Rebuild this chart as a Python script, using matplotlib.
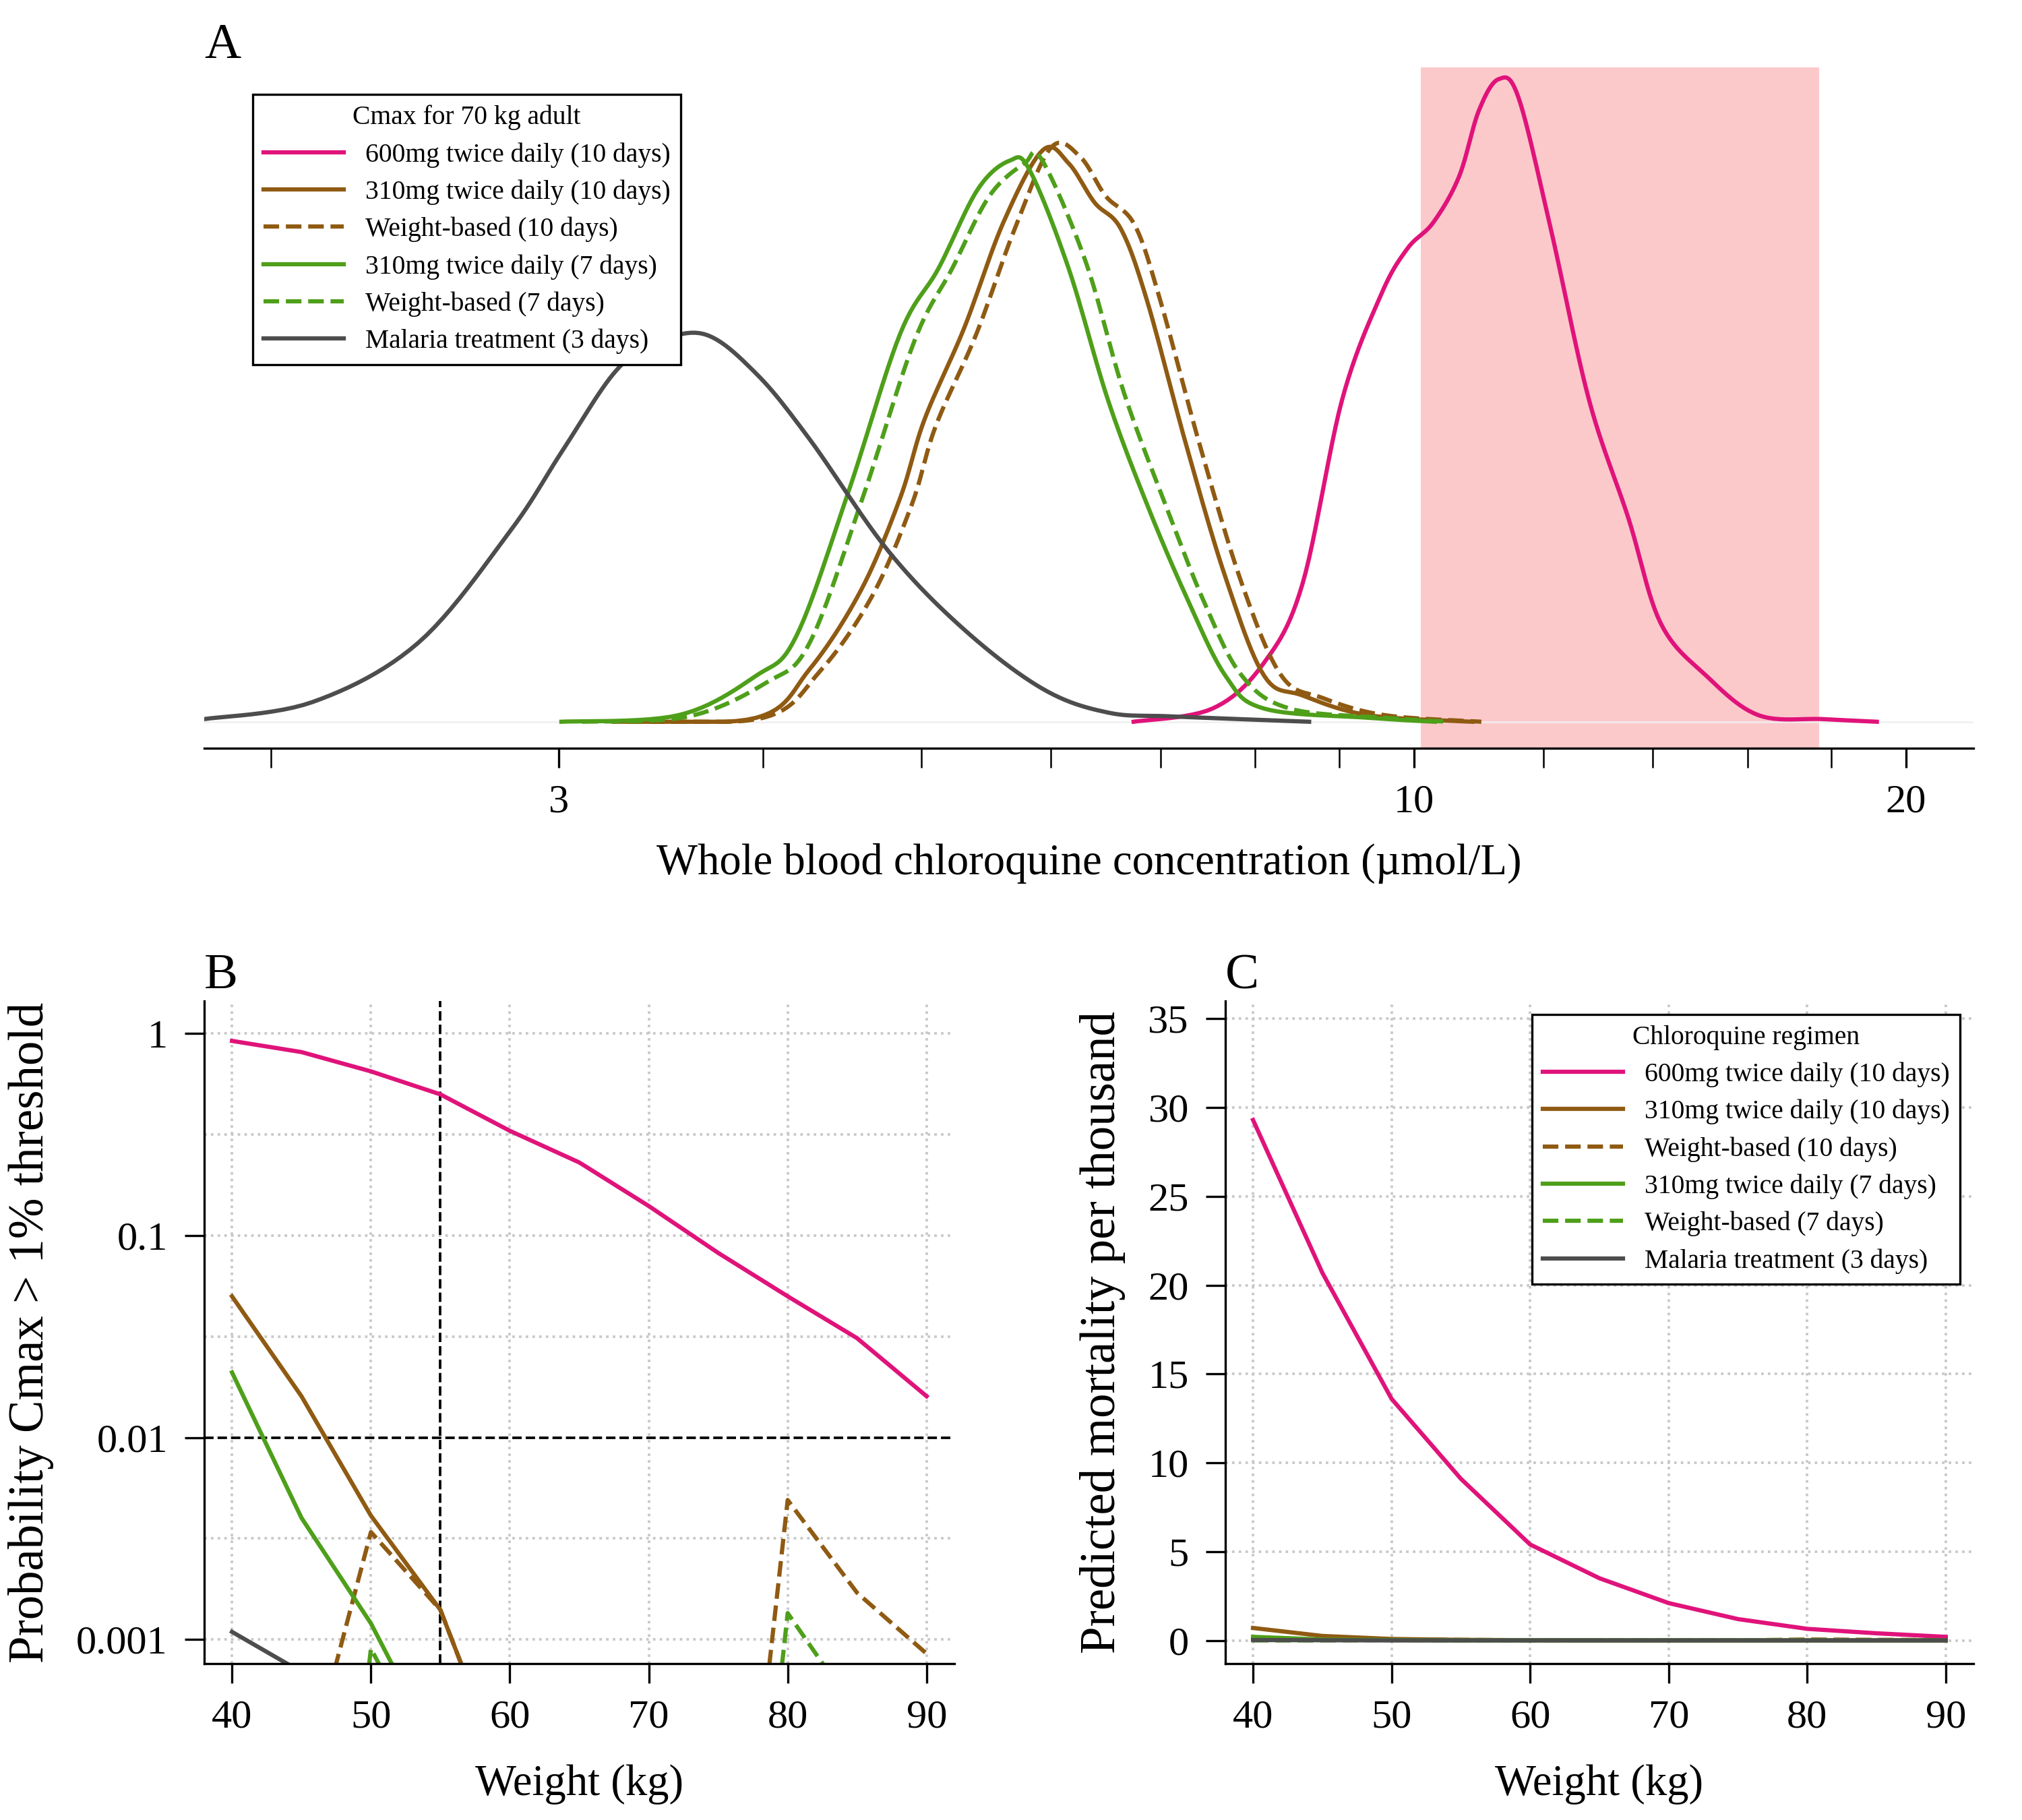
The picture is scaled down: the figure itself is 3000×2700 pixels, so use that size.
import matplotlib
matplotlib.use("Agg")
import matplotlib.pyplot as plt
import numpy as np
from matplotlib.ticker import FixedLocator, NullFormatter, FixedFormatter

plt.rcParams['font.family'] = ['Liberation Serif', 'DejaVu Serif']

PINK = '#E0137A'; BROWN = '#8F5A12'; GREEN = '#4E9F1A'; GRAY = '#4D4D4D'

# ---- Panel A densities (concentration, relative density) ----
gray_x = [1.82, 2.12, 2.46, 2.80, 3.01, 3.24, 3.42, 3.68, 3.96, 4.27, 4.77, 5.31, 5.93, 6.50, 7.13, 8.63]
gray_y = [2, 15, 60, 145, 205, 265, 287, 295, 265, 215, 130, 70, 25, 7, 4, 0]
pink_x = [6.74, 7.53, 8.10, 8.55, 9.04, 9.55, 9.91, 10.28, 10.66, 10.96, 11.27, 11.59, 12.13, 12.80, 13.53, 14.16, 15.10, 16.25, 17.8, 19.2]
pink_y = [0, 10, 45, 105, 245, 325, 360, 380, 415, 465, 489, 475, 375, 245, 155, 75, 35, 5, 2, 0]
g7_x = [3.01, 3.55, 3.96, 4.19, 4.51, 4.85, 5.12, 5.41, 5.66, 5.82, 6.15, 6.50, 6.87, 7.26, 7.67, 8.10, 9.38, 10.3]
g7_y = [0, 5, 35, 65, 175, 295, 345, 405, 427, 420, 345, 245, 165, 95, 35, 10, 3, 0]
gw7_x = [3.1, 3.6, 4.02, 4.27, 4.6, 4.95, 5.22, 5.5, 5.78, 5.92, 6.3, 6.65, 7.05, 7.45, 7.85, 8.4, 9.6, 10.5]
gw7_y = [0, 4, 30, 60, 170, 290, 345, 400, 425, 428, 350, 250, 165, 90, 35, 10, 3, 0]
b10_x = [3.24, 3.96, 4.27, 4.59, 4.85, 5.02, 5.31, 5.61, 5.93, 6.15, 6.38, 6.62, 6.87, 7.26, 7.67, 8.10, 8.55, 9.38, 10.86]
b10_y = [0, 3, 40, 100, 170, 230, 300, 380, 435, 425, 395, 375, 320, 210, 110, 35, 20, 5, 0]
bw10_x = [3.3, 4.0, 4.33, 4.66, 4.93, 5.1, 5.4, 5.7, 6.0, 6.25, 6.48, 6.75, 7.0, 7.4, 7.85, 8.3, 8.8, 9.6, 11.0]
bw10_y = [0, 3, 38, 95, 165, 225, 295, 375, 437, 430, 400, 378, 320, 210, 105, 35, 18, 5, 0]
shade_range = [10.1, 17.7]

# ---- Panel B/C ----
weights = [40, 45, 50, 55, 60, 65, 70, 75, 80, 85, 90]
pB_pink = [0.92, 0.81, 0.65, 0.50, 0.33, 0.23, 0.14, 0.082, 0.050, 0.031, 0.016]
pB_b10 = [0.050, 0.016, 0.0041, 0.0014, 0.00018, 1e-6, 1e-6, 1e-6, 1e-6, 1e-6, 1e-6]
pB_bw10 = [1e-6, 0.00017, 0.0034, 0.0014, 0.00018, 1e-6, 1e-6, 4e-6, 0.0049, 0.0017, 0.00085]
pB_g7 = [0.021, 0.0040, 0.0012, 0.00026, 1e-6, 1e-6, 1e-6, 1e-6, 1e-6, 1e-6, 1e-6]
pB_gw7 = [1e-6, 1e-6, 0.0009, 0.0002, 1e-6, 1e-6, 1e-6, 1e-6, 0.00135, 0.00043, 1e-6]
pB_gray = [0.00109, 0.00069, 1e-6, 1e-6, 1e-6, 1e-6, 1e-6, 1e-6, 1e-6, 1e-6, 1e-6]

mC_pink = [29.3, 20.7, 13.6, 9.1, 5.4, 3.5, 2.1, 1.2, 0.65, 0.4, 0.2]
mC_b10 = [0.7, 0.25, 0.08, 0.03, 0.01, 0, 0, 0, 0, 0, 0]
mC_bw10 = [0.05, 0.03, 0.05, 0.03, 0.01, 0, 0, 0, 0.05, 0.03, 0.02]
mC_g7 = [0.2, 0.05, 0.02, 0, 0, 0, 0, 0, 0, 0, 0]
mC_gw7 = [0, 0, 0.02, 0, 0, 0, 0, 0, 0.02, 0, 0]
mC_gray = [0.02, 0.01, 0, 0, 0, 0, 0, 0, 0, 0, 0]

labels = ['600mg twice daily (10 days)', '310mg twice daily (10 days)', 'Weight-based (10 days)',
          '310mg twice daily (7 days)', 'Weight-based (7 days)', 'Malaria treatment (3 days)']
styles = [(PINK, '-'), (BROWN, '-'), (BROWN, '--'), (GREEN, '-'), (GREEN, '--'), (GRAY, '-')]


def smooth(xs, ys, n=12):
    """Catmull-Rom curve through the read points (in log-x space), for drawing only."""
    lx = np.log10(np.asarray(xs, float)); y = np.asarray(ys, float)
    P = np.column_stack([lx, y])
    P = np.vstack([P[0], P, P[-1]])
    out = []
    t = np.linspace(0, 1, n, endpoint=False)[:, None]
    for i in range(1, len(P) - 2):
        p0, p1, p2, p3 = P[i - 1], P[i], P[i + 1], P[i + 2]
        seg = 0.5 * ((2 * p1) + (-p0 + p2) * t + (2 * p0 - 5 * p1 + 4 * p2 - p3) * t ** 2
                     + (-p0 + 3 * p1 - 3 * p2 + p3) * t ** 3)
        out.append(seg)
    out.append(P[-2][None, :])
    out = np.vstack(out)
    return 10 ** out[:, 0], np.clip(out[:, 1], 0, None)


fig = plt.figure(figsize=(10, 9), dpi=300)
FS = 14.5
LW = 1.5
LFS = 9.5

# Panel A
axA = fig.add_axes([0.101, 0.589, 0.875, 0.374])
axA.axvspan(shade_range[0], shade_range[1], color='#FCC9CB', lw=0)
axA.axhline(0, color='#eeeeee', lw=0.6)
A_series = [(pink_x, pink_y), (b10_x, b10_y), (bw10_x, bw10_y), (g7_x, g7_y), (gw7_x, gw7_y), (gray_x, gray_y)]
for (xs, ys), (c, ls), lab in zip(A_series, styles, labels):
    sx, sy = smooth(xs, ys)
    axA.plot(sx, sy, color=c, ls=ls, lw=LW, label=lab)
axA.set_xscale('log')
axA.set_xlim(1.82, 22)
axA.set_ylim(-20, 498)
for s in ['top', 'right', 'left']:
    axA.spines[s].set_visible(False)
axA.set_yticks([])
axA.xaxis.set_major_locator(FixedLocator([3, 10, 20]))
axA.xaxis.set_major_formatter(FixedFormatter(['3', '10', '20']))
axA.xaxis.set_minor_locator(FixedLocator([2, 4, 5, 6, 7, 8, 9, 12, 14, 16, 18]))
axA.xaxis.set_minor_formatter(NullFormatter())
axA.tick_params(axis='x', which='both', length=7, labelsize=FS, direction='out', pad=6)
axA.set_xlabel('Whole blood chloroquine concentration (µmol/L)', fontsize=FS + 1, labelpad=8)
legA = axA.legend(loc='upper left', bbox_to_anchor=(0.02, 0.98), title='Cmax for 70 kg adult', fontsize=LFS,
                  title_fontsize=LFS, fancybox=False, edgecolor='black', framealpha=1, handlelength=3,
                  labelspacing=0.45)
legA.get_frame().set_linewidth(0.8)
fig.text(0.101, 0.968, 'A', fontsize=18)

# Panel B
axB = fig.add_axes([0.101, 0.086, 0.371, 0.364])
for v in [1, 0.1, 0.01, 0.001, 10**-0.5, 10**-1.5, 10**-2.5]:
    axB.axhline(v, color='#c8c8c8', ls=':', lw=0.9, zorder=0)
for w in weights[::2]:
    axB.axvline(w, color='#c8c8c8', ls=':', lw=0.9, zorder=0)
axB.axhline(0.01, color='black', ls='--', lw=0.9)
axB.axvline(55, color='black', ls='--', lw=0.9)
B_series = [pB_pink, pB_b10, pB_bw10, pB_g7, pB_gw7, pB_gray]
for ys, (c, ls) in zip(B_series, styles):
    axB.plot(weights, ys, color=c, ls=ls, lw=LW)
axB.set_yscale('log')
axB.set_ylim(0.00076, 1.45)
axB.set_xlim(38, 92)
axB.set_yticks([1, 0.1, 0.01, 0.001])
axB.set_yticklabels(['1', '0.1', '0.01', '0.001'])
axB.minorticks_off()
axB.set_xticks([40, 50, 60, 70, 80, 90])
for s in ['top', 'right']:
    axB.spines[s].set_visible(False)
axB.tick_params(labelsize=FS, length=7, pad=6)
axB.set_xlabel('Weight (kg)', fontsize=FS + 1, labelpad=10)
axB.set_ylabel('Probability Cmax > 1% threshold', fontsize=FS + 3, labelpad=8)
fig.text(0.101, 0.457, 'B', fontsize=18)

# Panel C
axC = fig.add_axes([0.606, 0.086, 0.37, 0.364])
for v in range(0, 36, 5):
    axC.axhline(v, color='#c8c8c8', ls=':', lw=0.9, zorder=0)
for w in weights[::2]:
    axC.axvline(w, color='#c8c8c8', ls=':', lw=0.9, zorder=0)
C_series = [mC_pink, mC_b10, mC_bw10, mC_g7, mC_gw7, mC_gray]
for ys, (c, ls), lab in zip(C_series, styles, labels):
    axC.plot(weights, ys, color=c, ls=ls, lw=LW, label=lab)
axC.set_ylim(-1.3, 36)
axC.set_xlim(38, 92)
axC.set_yticks(range(0, 36, 5))
axC.set_xticks([40, 50, 60, 70, 80, 90])
for s in ['top', 'right']:
    axC.spines[s].set_visible(False)
axC.tick_params(labelsize=FS, length=7, pad=6)
axC.set_xlabel('Weight (kg)', fontsize=FS + 1, labelpad=10)
axC.set_ylabel('Predicted mortality per thousand', fontsize=FS + 3, labelpad=8)
legC = axC.legend(loc='upper right', bbox_to_anchor=(1.0, 1.0), title='Chloroquine regimen', fontsize=LFS,
                  title_fontsize=LFS, fancybox=False, edgecolor='black', framealpha=1, handlelength=3,
                  labelspacing=0.45)
legC.get_frame().set_linewidth(0.8)
fig.text(0.606, 0.457, 'C', fontsize=18)

fig.savefig('out.png', dpi=300)
